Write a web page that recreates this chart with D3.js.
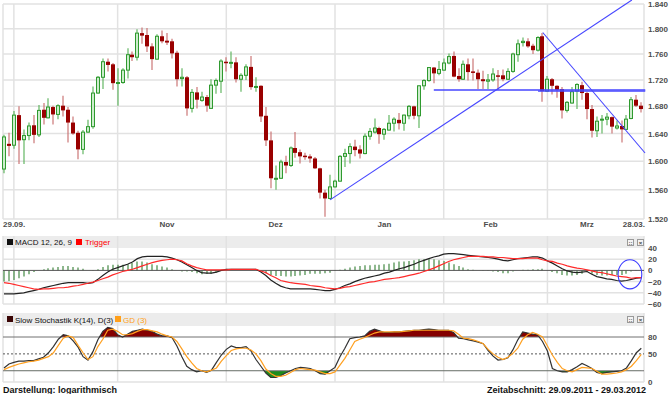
<!DOCTYPE html>
<html><head><meta charset="utf-8">
<script src="https://cdn.jsdelivr.net/npm/d3@7"></script>
<style>
body{margin:0;background:#fff;}
svg{display:block;font-family:"Liberation Sans",Arial,sans-serif;}
</style>
</head><body>
<svg id="c" width="670" height="394"></svg>
<script>
// ---------- data ----------
const opens=[1.589,1.625,1.623,1.667,1.631,1.637,1.652,1.638,1.675,1.663,1.679,1.668,1.681,1.675,1.656,1.641,1.617,1.642,1.650,1.700,
1.724,1.748,1.744,1.715,1.716,1.735,1.759,1.755,1.793,1.790,1.772,1.752,1.788,1.781,1.780,1.762,1.722,1.724,1.677,1.701,
1.689,1.694,1.677,1.712,1.718,1.748,1.746,1.747,1.721,1.727,1.740,1.709,1.711,1.666,1.630,1.575,1.576,1.599,1.594,1.619,
1.613,1.608,1.607,1.604,1.590,1.556,1.548,1.564,1.572,1.607,1.611,1.621,1.617,1.611,1.636,1.642,1.648,1.639,1.645,1.655,
1.660,1.655,1.666,1.680,1.666,1.711,1.719,1.739,1.730,1.735,1.746,1.757,1.726,1.721,1.744,1.733,1.731,1.721,1.718,1.720,
1.727,1.727,1.721,1.733,1.759,1.778,1.780,1.773,1.766,1.788,1.703,1.721,1.711,1.706,1.674,1.685,1.703,1.712,1.700,1.676,
1.644,1.660,1.661,1.664,1.648,1.651,1.646,1.662,1.690,1.681];
const highs=[1.638,1.641,1.673,1.680,1.646,1.656,1.667,1.682,1.685,1.692,1.681,1.683,1.696,1.679,1.665,1.644,1.645,1.660,1.710,1.726,
1.753,1.753,1.746,1.738,1.738,1.769,1.764,1.799,1.802,1.801,1.777,1.791,1.797,1.793,1.784,1.765,1.738,1.726,1.706,1.709,
1.702,1.697,1.721,1.722,1.752,1.755,1.764,1.755,1.730,1.744,1.757,1.724,1.712,1.679,1.643,1.594,1.602,1.608,1.621,1.642,
1.617,1.612,1.610,1.606,1.591,1.560,1.581,1.574,1.609,1.618,1.626,1.631,1.623,1.640,1.648,1.662,1.650,1.648,1.667,1.664,
1.670,1.668,1.682,1.681,1.712,1.721,1.740,1.740,1.749,1.753,1.761,1.764,1.738,1.750,1.753,1.753,1.736,1.734,1.729,1.738,
1.735,1.736,1.738,1.762,1.783,1.786,1.785,1.776,1.788,1.793,1.726,1.723,1.712,1.709,1.688,1.709,1.715,1.717,1.702,1.682,
1.665,1.667,1.670,1.665,1.659,1.659,1.667,1.694,1.697,1.686];
const lows=[1.583,1.607,1.618,1.596,1.596,1.630,1.626,1.635,1.653,1.662,1.653,1.661,1.665,1.627,1.638,1.603,1.610,1.641,1.647,1.699,
1.706,1.733,1.705,1.681,1.714,1.722,1.749,1.750,1.776,1.763,1.735,1.751,1.777,1.774,1.753,1.710,1.710,1.666,1.671,1.677,
1.687,1.672,1.676,1.699,1.700,1.733,1.738,1.716,1.702,1.720,1.705,1.702,1.657,1.622,1.562,1.560,1.575,1.583,1.592,1.605,
1.597,1.602,1.598,1.589,1.548,1.523,1.547,1.563,1.571,1.592,1.597,1.607,1.604,1.610,1.631,1.640,1.625,1.631,1.644,1.643,
1.646,1.644,1.661,1.661,1.648,1.705,1.717,1.715,1.727,1.734,1.744,1.724,1.717,1.720,1.719,1.719,1.706,1.706,1.706,1.717,
1.705,1.718,1.720,1.731,1.748,1.772,1.770,1.760,1.764,1.687,1.702,1.698,1.693,1.662,1.671,1.684,1.676,1.690,1.661,1.634,
1.635,1.640,1.652,1.640,1.646,1.627,1.645,1.661,1.679,1.671];
const closes=[1.635,1.622,1.667,1.630,1.637,1.651,1.638,1.674,1.663,1.679,1.668,1.681,1.674,1.656,1.640,1.617,1.642,1.650,1.700,1.724,
1.748,1.743,1.715,1.716,1.735,1.759,1.755,1.793,1.789,1.772,1.752,1.788,1.780,1.778,1.761,1.721,1.724,1.677,1.701,1.690,
1.694,1.681,1.712,1.719,1.749,1.746,1.747,1.721,1.727,1.740,1.709,1.710,1.665,1.630,1.576,1.576,1.599,1.594,1.619,1.612,
1.607,1.606,1.604,1.590,1.556,1.548,1.564,1.572,1.607,1.611,1.621,1.616,1.611,1.636,1.643,1.648,1.639,1.646,1.655,1.661,
1.655,1.667,1.680,1.666,1.711,1.719,1.739,1.730,1.736,1.746,1.756,1.725,1.721,1.744,1.732,1.731,1.721,1.718,1.720,1.729,
1.725,1.721,1.733,1.760,1.776,1.780,1.772,1.766,1.786,1.703,1.721,1.711,1.705,1.674,1.686,1.702,1.713,1.700,1.676,1.644,
1.658,1.661,1.664,1.650,1.651,1.646,1.661,1.690,1.681,1.676];

const macd=[-42,-42,-42,-41,-40,-38,-36,-34,-31,-29,-27,-25,-23,-22,-22,-22,-22,-23,-22,-16,
-9,-3,2,5,8,11,15,21,24,25,25,25,25,24,22,19,15,10,5,0,
-4,-5,-5,-3,0,2,2,2,2,2,2,2,-3,-9,-17,-23,-28,-31,-33,-33,
-33,-33,-33,-34,-35,-36,-36,-34,-31,-27,-24,-20,-17,-14,-12,-10,-8,-5,-3,0,
3,5,8,11,15,18,21,24,26,29,30,30,29,28,27,26,25,24,23,22,
20,18,17,19,21,22,23,24,24,22,17,13,8,3,-1,-3,-4,-3,-2,-7,
-11,-13,-15,-16,-18,-19,-18,-16,-14,-13];
const trigger=[-22,-23,-25,-27,-29,-31,-33,-34,-33,-33,-32,-31,-31,-30,-28,-27,-25,-23,-21,-18,
-15,-12,-8,-5,-2,0,2,5,8,11,14,16,18,19,20,19,17,12,8,5,
3,1,1,1,1,1,2,2,2,2,2,2,-1,-4,-9,-13,-18,-20,-22,-23,
-24,-25,-27,-28,-29,-31,-32,-33,-32,-30,-29,-27,-25,-23,-21,-20,-18,-16,-15,-14,
-13,-11,-9,-7,-5,-2,1,4,8,12,16,19,21,23,25,25,25,25,24,24,
23,23,22,21,21,21,22,22,22,19,17,16,13,11,8,6,4,3,1,-1,
-3,-4,-6,-8,-10,-11,-12,-14,-13,-13];

const stochK=[25,32,35,37,37,38,38,41,44,52,63,76,84,82,73,62,45,39,54,75,
90,97,95,84,80,85,90,92,94,92,90,85,82,82,79,64,45,28,22,18,
20,17,21,35,48,58,64,61,61,63,55,40,28,16,8,8,11,16,20,24,
26,25,24,20,15,14,20,26,45,60,77,79,80,82,90,94,91,88,88,89,
89,90,91,92,92,93,94,93,92,92,92,88,78,77,75,73,71,68,56,46,
39,40,43,57,75,89,87,85,84,72,55,24,20,18,18,22,27,33,29,24,
17,15,17,18,19,20,25,38,52,60];
const stochD=[22,26,29,32,34,36,37,39,42,45,52,65,78,82,79,65,52,40,45,63,
76,92,94,90,84,84,86,90,93,93,91,89,85,82,80,72,59,45,34,24,
20,18,21,25,37,47,56,59,60,60,57,50,38,23,15,10,10,12,17,22,
24,23,22,21,18,15,15,18,30,42,57,72,76,79,83,87,89,89,89,89,
89,90,91,92,92,92,92,92,92,92,92,91,85,78,77,75,72,68,58,50,
44,40,44,51,60,76,84,88,85,80,64,48,35,24,20,18,22,26,25,24,
19,14,14,15,16,18,22,28,38,49];

const priceTicks=[1.52,1.56,1.60,1.64,1.68,1.72,1.76,1.80,1.84];
const macdTicks=[40,20,0,-20,-40,-60];
const macdGrid=[20,-20,-40];
const stochTicks=[80,50,0];
const stochSolid=[80,20];
const stochDotted=[50];
const monthStartIdx=[2,23,45,67,89,110];
const monthLabels=['Nov','Dez','Jan','Feb','Mrz'];
const monthLabelIdx=[33,55,77,98.5,118];
const firstDateLabel='29.09.';
const lastDateLabel='28.03.';

// drawn annotations: [candle index, price]
const trendUp=[[66,1.546],[127.1,1.8466]];
const trendDown=[[109.05,1.794],[129.76,1.6118]];
const levelA=[[87,1.7046],[129.8,1.7046]];
const levelB=[[108.1,1.703],[129.8,1.703]];
const macdCircle={i:126.7,v:-7,di:2.4,dv:26};

// ---------- scales ----------
const svg=d3.select('#c');
const L=3,R=644;
const x=d3.scaleLinear().domain([0,129]).range([4,641.3]);
const yP=d3.scaleLog().domain([1.52,1.84]).range([219,4]);
const yM=d3.scaleLinear().domain([-60,40]).range([304,248]);
const yS=d3.scaleLinear().domain([0,100]).range([382,325.75]);
const gridCol='#e2e2e2';
const labCol='#4d4d4d';

function vgrid(y0,y1){
  svg.append('g').selectAll('line').data(monthStartIdx).join('line')
    .attr('x1',d=>x(d)).attr('x2',d=>x(d)).attr('y1',y0).attr('y2',y1)
    .attr('stroke',gridCol).attr('stroke-width',1.5);
  svg.append('line').attr('x1',L).attr('x2',L).attr('y1',y0).attr('y2',y1).attr('stroke',gridCol).attr('stroke-width',1.5);
  svg.append('line').attr('x1',R).attr('x2',R).attr('y1',y0).attr('y2',y1).attr('stroke',gridCol).attr('stroke-width',1.5);
}

// ---------- main price panel ----------
svg.append('g').selectAll('line').data(priceTicks).join('line')
  .attr('x1',L).attr('x2',R).attr('y1',d=>yP(d)).attr('y2',d=>yP(d))
  .attr('stroke',gridCol).attr('stroke-width',1.5);
vgrid(4,219);

const yAxis=d3.axisRight(yP).tickValues(priceTicks).tickFormat(d3.format('.3f')).tickSize(0).tickPadding(4);
const ga=svg.append('g').attr('transform',`translate(${R},0)`).call(yAxis);
ga.select('.domain').remove();
ga.selectAll('text').attr('font-family','Liberation Sans').attr('font-size',8).attr('font-weight','bold').attr('fill',labCol);

// date labels
const dateG=svg.append('g').attr('font-size',8).attr('font-weight','bold').attr('fill',labCol);
dateG.append('text').attr('x',L).attr('y',227).text(firstDateLabel);
dateG.append('text').attr('x',R+1).attr('y',227).attr('text-anchor','end').text(lastDateLabel);
dateG.selectAll('text.m').data(monthLabels).join('text').attr('class','m')
  .attr('x',(d,i)=>x(monthLabelIdx[i])).attr('y',227).attr('text-anchor','middle').text(d=>d);

// candles
const cg=svg.append('g');
d3.range(closes.length).forEach(i=>{
  const up=closes[i]>=opens[i];
  const cx=Math.round(x(i));
  cg.append('line').attr('x1',cx).attr('x2',cx).attr('y1',yP(highs[i])).attr('y2',yP(lows[i]))
    .attr('stroke',up?'#55b055':'#c76a6a').attr('stroke-width',1.1);
  const yt=yP(Math.max(opens[i],closes[i])), yb=yP(Math.min(opens[i],closes[i]));
  if(up){
    cg.append('rect').attr('x',cx-1.5).attr('width',3).attr('y',yt).attr('height',Math.max(1,yb-yt))
      .attr('fill','#cdeccd').attr('stroke','#2f9a2f').attr('stroke-width',1);
  } else {
    cg.append('rect').attr('x',cx-2).attr('width',4).attr('y',yt).attr('height',Math.max(1.5,yb-yt))
      .attr('fill','#990000');
  }
});

// trend lines
function tline(pts,w){
  svg.append('line').attr('x1',x(pts[0][0])).attr('y1',yP(pts[0][1]))
    .attr('x2',x(pts[1][0])).attr('y2',yP(pts[1][1]))
    .attr('stroke','#4646ff').attr('stroke-width',w);
}
tline(trendUp,1.1);
tline(trendDown,1.1);
tline(levelA,1.5);
tline(levelB,1.2);

// ---------- MACD panel ----------
svg.append('rect').attr('x',L).attr('y',236).attr('width',R-L).attr('height',12).attr('fill','#ececec');
svg.append('g').selectAll('line').data(macdGrid).join('line')
  .attr('x1',L).attr('x2',R).attr('y1',d=>yM(d)).attr('y2',d=>yM(d)).attr('stroke',gridCol).attr('stroke-width',1.5);
svg.append('line').attr('x1',L).attr('x2',R).attr('y1',yM(-60)).attr('y2',yM(-60)).attr('stroke',gridCol).attr('stroke-width',1.5);
vgrid(236,304);
// histogram
svg.append('g').selectAll('line').data(d3.range(macd.length)).join('line')
  .attr('x1',i=>Math.round(x(i))).attr('x2',i=>Math.round(x(i)))
  .attr('y1',yM(0)).attr('y2',i=>yM(macd[i]-trigger[i]))
  .attr('stroke','#5e9a5e').attr('stroke-width',1.4);
svg.append('line').attr('x1',L).attr('x2',R).attr('y1',yM(0)).attr('y2',yM(0)).attr('stroke','#555').attr('stroke-width',1);
const lineM=d3.line().x((d,i)=>x(i)).y(d=>yM(d));
svg.append('path').attr('d',lineM(macd)).attr('fill','none').attr('stroke','#222').attr('stroke-width',1.2);
svg.append('path').attr('d',lineM(trigger)).attr('fill','none').attr('stroke','#ff2a2a').attr('stroke-width',1.2);
svg.append('ellipse').attr('cx',x(macdCircle.i)).attr('cy',yM(macdCircle.v))
  .attr('rx',x(macdCircle.i+macdCircle.di)-x(macdCircle.i)).attr('ry',yM(macdCircle.v-macdCircle.dv)-yM(macdCircle.v))
  .attr('fill','none').attr('stroke','#3b3bff').attr('stroke-width',1.1);
const gm=svg.append('g').attr('transform',`translate(${R},0)`).call(d3.axisRight(yM).tickValues(macdTicks).tickSize(0).tickPadding(4));
gm.select('.domain').remove();
gm.selectAll('text').attr('font-family','Liberation Sans').attr('font-size',8).attr('font-weight','bold').attr('fill',labCol);

// legend
svg.append('rect').attr('x',7).attr('y',239).attr('width',6).attr('height',6).attr('fill','#111');
svg.append('text').attr('x',15).attr('y',245).attr('font-size',8).attr('fill','#111').text('MACD 12, 26, 9');
svg.append('rect').attr('x',76).attr('y',239).attr('width',6).attr('height',6).attr('fill','#ff0000');
svg.append('text').attr('x',85).attr('y',245).attr('font-size',8).attr('fill','#ff0000').text('Trigger');

function icons(y){
  [627,637].forEach((bx,k)=>{
    svg.append('rect').attr('x',bx+0.5).attr('y',y+0.5).attr('width',6).attr('height',6)
      .attr('fill','#f4f4f4').attr('stroke','#9a9a9a').attr('stroke-width',1);
    svg.append('text').attr('x',bx+3.5).attr('y',y+5.5).attr('text-anchor','middle')
      .attr('font-size',6).attr('font-weight','bold').attr('fill','#444').text(k?'×':'::');
  });
}
icons(239);

// ---------- Stochastic panel ----------
svg.append('rect').attr('x',L).attr('y',313).attr('width',R-L).attr('height',13).attr('fill','#ececec');
vgrid(313,382);
const clipTop=svg.append('clipPath').attr('id','ctop');
clipTop.append('rect').attr('x',0).attr('y',320).attr('width',670).attr('height',yS(80)-320);
const clipBot=svg.append('clipPath').attr('id','cbot');
clipBot.append('rect').attr('x',0).attr('y',yS(20)).attr('width',670).attr('height',382-yS(20));
svg.append('path').attr('clip-path','url(#ctop)')
  .attr('d',d3.area().x((d,i)=>x(i)).y0(yS(80)).y1(d=>yS(d))(stochK)).attr('fill','#850000');
svg.append('path').attr('clip-path','url(#cbot)')
  .attr('d',d3.area().x((d,i)=>x(i)).y0(yS(20)).y1(d=>yS(d))(stochK)).attr('fill','#1c8c1c');
svg.append('g').selectAll('line').data(stochSolid).join('line')
  .attr('x1',L).attr('x2',R).attr('y1',d=>yS(d)).attr('y2',d=>yS(d)).attr('stroke','#707070').attr('stroke-width',1);
svg.append('g').selectAll('line').data(stochDotted).join('line')
  .attr('x1',L).attr('x2',R).attr('y1',d=>yS(d)).attr('y2',d=>yS(d)).attr('stroke','#555').attr('stroke-width',1).attr('stroke-dasharray','2,2');
svg.append('line').attr('x1',L).attr('x2',R).attr('y1',382).attr('y2',382).attr('stroke',gridCol).attr('stroke-width',1.5);
const lineS=d3.line().x((d,i)=>x(i)).y(d=>yS(d));
svg.append('path').attr('d',lineS(stochK)).attr('fill','none').attr('stroke','#333').attr('stroke-width',1.2);
svg.append('path').attr('d',lineS(stochD)).attr('fill','none').attr('stroke','#ffa020').attr('stroke-width',1.2);
const gs=svg.append('g').attr('transform',`translate(${R},0)`).call(d3.axisRight(yS).tickValues(stochTicks).tickSize(0).tickPadding(4));
gs.select('.domain').remove();
gs.selectAll('text').attr('font-family','Liberation Sans').attr('font-size',8).attr('font-weight','bold').attr('fill',labCol);

svg.append('rect').attr('x',7).attr('y',316).attr('width',6).attr('height',6).attr('fill','#3a0505');
svg.append('text').attr('x',15).attr('y',322.5).attr('font-size',8).attr('fill','#111').text('Slow Stochastik K(14), D(3)');
svg.append('rect').attr('x',115).attr('y',316).attr('width',6).attr('height',6).attr('fill','#ff9f1a');
svg.append('text').attr('x',123).attr('y',322.5).attr('font-size',8).attr('fill','#ff9f1a').text('GD (3)');
icons(316);

// ---------- footer ----------
svg.append('text').attr('x',3).attr('y',393).attr('font-size',9).attr('font-weight','bold').attr('fill','#111').text('Darstellung: logarithmisch');
svg.append('text').attr('x',646).attr('y',393).attr('text-anchor','end').attr('font-size',9).attr('font-weight','bold').attr('fill','#111').text('Zeitabschnitt: 29.09.2011 - 29.03.2012');
</script>
</body></html>
